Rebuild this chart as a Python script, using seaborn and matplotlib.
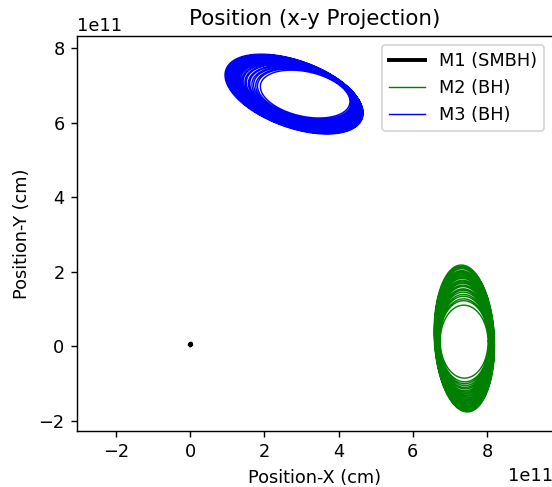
import numpy as np
import pandas as pd
import matplotlib
matplotlib.use("Agg")
import matplotlib.pyplot as plt
import seaborn as sns

# ---- data (units of 1e11 cm) ----
# M1 (SMBH): nearly fixed at the origin
M1_x = [0.00, 0.02, 0.03, 0.02, 0.00, 0.01]
M1_y = [0.03, 0.05, 0.04, 0.07, 0.06, 0.04]

# M2 (BH): successive orbital loops (centre, semi-axes, tilt in degrees)
M2_cx = [7.385, 7.386, 7.384, 7.387, 7.385, 7.388, 7.386, 7.389, 7.387, 7.390, 7.388, 7.391,
         7.389, 7.392, 7.390, 7.391, 7.389, 7.392, 7.390, 7.391, 7.390, 7.392, 7.391, 7.390]
M2_cy = [0.12, 0.13, 0.13, 0.14, 0.14, 0.15, 0.15, 0.15, 0.16, 0.16, 0.17, 0.17,
         0.17, 0.18, 0.18, 0.18, 0.19, 0.19, 0.19, 0.19, 0.20, 0.20, 0.20, 0.205]
M2_ax = [0.645, 0.665, 0.675, 0.685, 0.695, 0.705, 0.712, 0.720, 0.727, 0.733, 0.740, 0.746,
         0.752, 0.758, 0.763, 0.768, 0.773, 0.778, 0.783, 0.788, 0.793, 0.798, 0.803, 0.810]
M2_ay = [0.98, 1.09, 1.14, 1.20, 1.25, 1.30, 1.35, 1.39, 1.44, 1.48, 1.52, 1.56,
         1.60, 1.64, 1.67, 1.71, 1.74, 1.78, 1.81, 1.84, 1.88, 1.91, 1.94, 1.975]
M2_tilt = [1.0, 1.2, 1.1, 1.4, 1.3, 1.6, 1.5, 1.8, 1.7, 2.0, 1.9, 2.2,
           2.1, 2.4, 2.3, 2.5, 2.4, 2.6, 2.5, 2.7, 2.6, 2.8, 2.7, 2.8]

# M3 (BH): successive orbital loops (centre, semi-axes, tilt in degrees)
M3_cx = [3.10, 3.08, 3.07, 3.05, 3.04, 3.02, 3.01, 2.99, 2.98, 2.96, 2.95, 2.94,
         2.93, 2.92, 2.91, 2.90, 2.89, 2.88, 2.87, 2.86, 2.85, 2.84, 2.83, 2.82, 2.81, 2.80]
M3_cy = [6.77, 6.77, 6.76, 6.77, 6.76, 6.77, 6.76, 6.77, 6.76, 6.77, 6.76, 6.77,
         6.77, 6.76, 6.77, 6.76, 6.77, 6.76, 6.77, 6.77, 6.76, 6.77, 6.77, 6.76, 6.77, 6.77]
M3_a = [1.23, 1.29, 1.33, 1.37, 1.41, 1.45, 1.48, 1.52, 1.55, 1.58, 1.61, 1.64,
        1.67, 1.70, 1.72, 1.75, 1.77, 1.79, 1.81, 1.83, 1.85, 1.87, 1.89, 1.91, 1.93, 1.95]
M3_b = [0.60, 0.63, 0.65, 0.66, 0.68, 0.69, 0.70, 0.72, 0.73, 0.74, 0.75, 0.76,
        0.77, 0.78, 0.79, 0.80, 0.81, 0.82, 0.83, 0.84, 0.85, 0.86, 0.87, 0.88, 0.89, 0.90]
M3_tilt = [-12.4, -13.0, -13.4, -13.9, -14.3, -14.7, -15.0, -15.4, -15.7, -16.0, -16.3, -16.6,
           -16.9, -17.1, -17.4, -17.6, -17.8, -18.1, -18.3, -18.5, -18.7, -18.9, -19.1, -19.3, -19.5, -19.7]

labels = ["M1 (SMBH)", "M2 (BH)", "M3 (BH)"]
colors = ["black", "green", "blue"]
SCALE = 1e11


def trajectory(cx, cy, ax_, ay_, tilt):
    t = np.linspace(0, 2 * np.pi, 240)
    xs, ys = [], []
    for c1, c2, a, b, th in zip(cx, cy, ax_, ay_, tilt):
        r = np.deg2rad(th)
        xs.append(c1 + a * np.cos(t) * np.cos(r) - b * np.sin(t) * np.sin(r))
        ys.append(c2 + a * np.cos(t) * np.sin(r) + b * np.sin(t) * np.cos(r))
    return np.concatenate(xs) * SCALE, np.concatenate(ys) * SCALE


m2x, m2y = trajectory(M2_cx, M2_cy, M2_ax, M2_ay, M2_tilt)
m3x, m3y = trajectory(M3_cx, M3_cy, M3_a, M3_b, M3_tilt)

df1 = pd.DataFrame({"x": np.array(M1_x) * SCALE, "y": np.array(M1_y) * SCALE})
df2 = pd.DataFrame({"x": m2x, "y": m2y})
df3 = pd.DataFrame({"x": m3x, "y": m3y})

DPI = 128
fig = plt.figure(figsize=(552 / DPI, 487 / DPI), dpi=DPI)
ax = fig.add_axes([77 / 552, 1 - 431 / 487, 476 / 552, 395 / 487])

sns.lineplot(data=df1, x="x", y="y", sort=False, estimator=None, color=colors[0],
             lw=2.2, label=labels[0], ax=ax)
sns.lineplot(data=df2, x="x", y="y", sort=False, estimator=None, color=colors[1],
             lw=0.8, label=labels[1], ax=ax)
sns.lineplot(data=df3, x="x", y="y", sort=False, estimator=None, color=colors[2],
             lw=0.8, label=labels[2], ax=ax)

ax.set_xlim(-3.05e11, 9.78e11)
ax.set_ylim(-2.28e11, 8.33e11)
ax.set_xlabel("Position-X (cm)")
ax.set_ylabel("Position-Y (cm)")
ax.set_title("Position (x-y Projection)")
ax.legend(loc="upper right")

fig.savefig("out.png", dpi=DPI)
